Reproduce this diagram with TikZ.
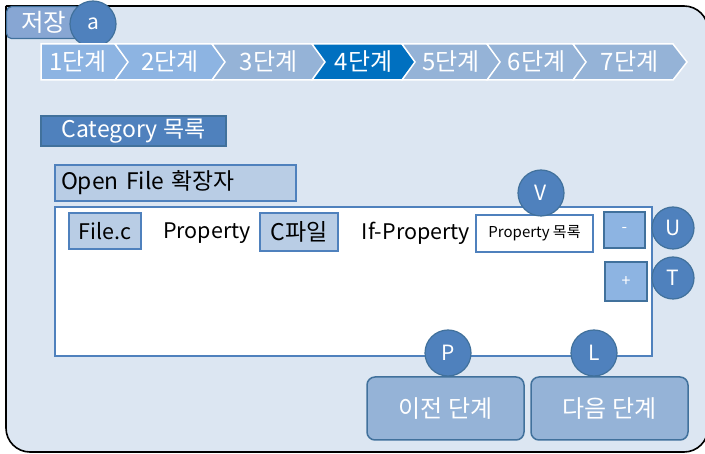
\documentclass[tikz,border=0pt]{standalone}
\usepackage{fontspec}
\setmainfont{Noto Sans CJK KR}
\definecolor{pagebg}{HTML}{DCE6F2}
\definecolor{tabblue}{HTML}{87A6D3}
\definecolor{lightstep}{HTML}{8DB4E2}
\definecolor{greystep}{HTML}{95B3D7}
\definecolor{nowstep}{HTML}{0070C0}
\definecolor{midblue}{HTML}{4F81BD}
\definecolor{darkblue}{HTML}{41719C}
\definecolor{paleblue}{HTML}{B9CDE5}
\begin{document}
\begin{tikzpicture}[x=1pt,y=-1pt,
	badge/.style={circle,draw=darkblue,line width=1.2pt,fill=midblue,minimum size=46pt,inner sep=0pt,text=white,font=\fontsize{21}{24}\selectfont},
	smallbadge/.style={badge,minimum size=42pt},
	stepbox/.style={draw=white,line width=1.5pt,line join=miter},
	steptext/.style={text=white,font=\fontsize{24}{28}\selectfont,inner sep=0pt},
	tagbox/.style={draw=midblue,line width=1.5pt,fill=paleblue,inner sep=0pt,font=\fontsize{21.5}{26}\selectfont},
	plain/.style={inner sep=0pt,font=\fontsize{21.5}{26}\selectfont},
	pushbtn/.style={draw=darkblue,line width=1.5pt,fill=greystep,text=white,inner sep=0pt},
	bigbtn/.style={draw=darkblue,line width=1.5pt,fill=greystep,rounded corners=8pt,text=white,minimum width=157pt,minimum height=63pt,inner sep=0pt,font=\fontsize{24}{28}\selectfont}]
	\useasboundingbox (0,0) rectangle (705,454);
	% frame
	\draw[fill=pagebg,line width=1.6pt,rounded corners=24pt] (6,6) -- (708,6) -- (708,452) -- (6,452) -- (6,6);
	\node[draw=darkblue,line width=1.2pt,fill=tabblue,rounded corners=5pt,minimum width=74pt,minimum height=32pt,inner sep=0pt,anchor=north west] (tab) at (6,6) {};
	\node[steptext,font=\fontsize{24.5}{28}\selectfont] (save) at (44,22) {저장};
	\node[badge] (a) at (93,24) {a};
	% steps
	\foreach \a/\b/\i/\c/\n in {41/115/1/lightstep/0,115/212/2/lightstep/13,212/312/3/greystep/13,312/402/4/nowstep/13,402/487/5/greystep/13,487/573/6/greystep/13,573/673/7/greystep/13}
	{
		\draw[stepbox,fill=\c] (\a,44) -- (\b,44) -- (\b+14,62) -- (\b,80) -- (\a,80) -- (\a+\n,62) -- cycle;
		\node[steptext] (step\i) at ({(\a+\n+\b)/2},62) {\i{}단계};
	}
	\node[draw=darkblue,line width=1.2pt,fill=midblue,text=white,minimum width=185pt,minimum height=30pt,inner sep=0pt,font=\fontsize{23}{26}\selectfont] (cat) at (133.5,131) {Category 목록};
	\node[tagbox,minimum width=241pt,minimum height=36pt,text width=229pt,inner xsep=6pt,align=left,font=\fontsize{22.8}{26}\selectfont] (ext) at (175.5,183) {Open File 확장자};
	% list
	\node[draw=midblue,line width=2pt,fill=white,minimum width=597pt,minimum height=149pt] (list) at (353.5,281.5) {};
	\node[tagbox,minimum width=72pt,minimum height=36pt] (file) at (105,231) {File.c};
	\node[plain] (prop) at (207,233) {Property};
	\node[tagbox,minimum width=78pt,minimum height=38pt,font=\fontsize{23}{26}\selectfont] (cfile) at (299,232) {C파일};
	\node[plain] (ifprop) at (416,233) {If-Property};
	\node[draw=midblue,line width=1.5pt,fill=white,minimum width=117pt,minimum height=37pt,inner sep=0pt,font=\fontsize{15}{18}\selectfont] (plist) at (534.5,233.5) {Property 목록};
	\node[pushbtn,fill=lightstep,minimum width=41pt,minimum height=36pt,font=\fontsize{16}{18}\selectfont] (minus) at (624.5,230) {-};
	\node[pushbtn,fill=lightstep,minimum width=42pt,minimum height=39pt,font=\fontsize{16}{18}\selectfont] (plus) at (626,281.5) {+};
	\node[smallbadge] (U) at (673,228) {U};
	\node[smallbadge] (T) at (673,278) {T};
	\node[badge] (V) at (541,193) {V};
	% buttons
	\node[bigbtn] (prev) at (445.5,408.5) {이전 단계};
	\node[bigbtn] (next) at (609.5,408.5) {다음 단계};
	\node[badge] (P) at (448,353) {P};
	\node[badge] (L) at (594,353) {L};
\end{tikzpicture}
\end{document}
